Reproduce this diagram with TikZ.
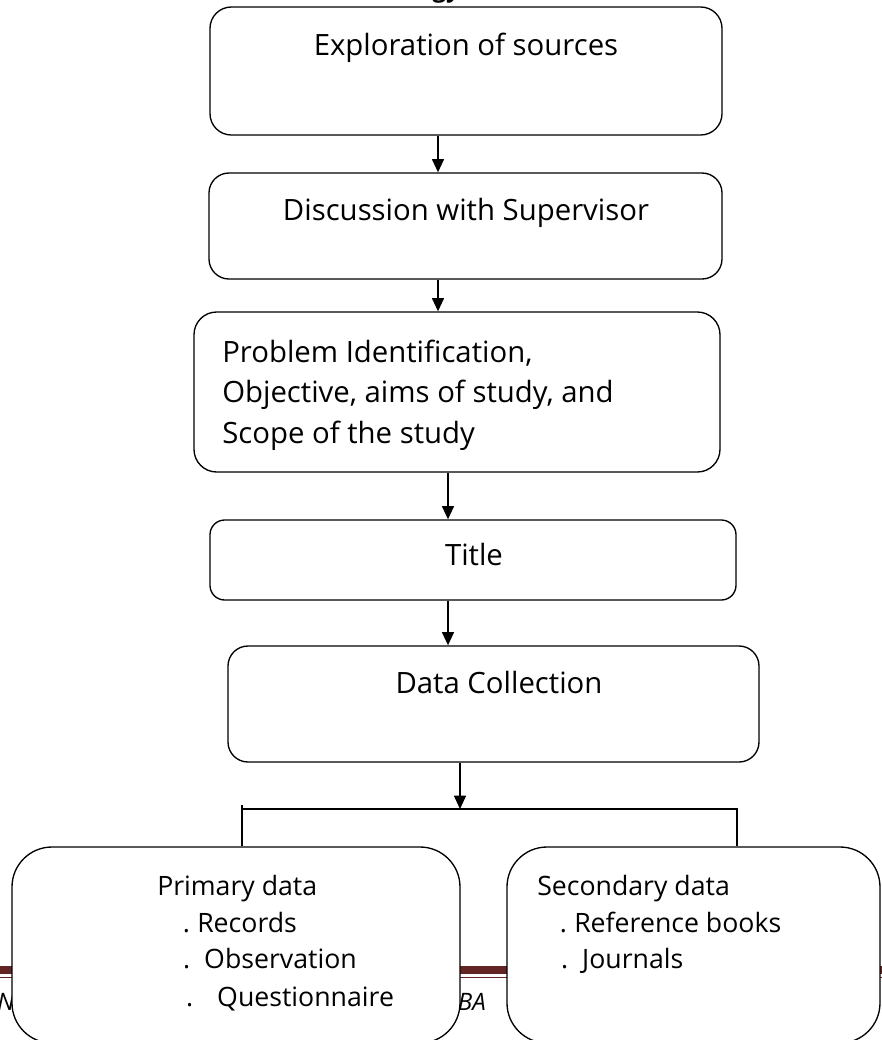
\documentclass[tikz,border=0pt]{standalone}
\usepackage{fontspec}
\setmainfont{Open Sans}
\usetikzlibrary{arrows.meta,fit}
\definecolor{footred}{HTML}{632523}
\begin{document}
\begin{tikzpicture}[x=0.75pt,y=-0.75pt,
  box/.style={draw=black,line width=1pt,fill=white,inner sep=0pt},
  txt/.style={font=\fontsize{22}{26}\selectfont,inner sep=0pt},
  stxt/.style={font=\fontsize{20}{24}\selectfont,inner sep=0pt},
  foot/.style={font=\itshape\fontsize{18}{22}\selectfont,inner sep=0pt},
  arr/.style={line width=1.2pt,-{Triangle[length=10pt,width=9pt]}},
  con/.style={line width=1.2pt}]
\useasboundingbox (0,0) rectangle (882,1040);

% page artefacts behind the chart
\node[font=\bfseries\fontsize{18}{22}\selectfont,inner sep=0pt,anchor=base east] (ttl) at (460,-3) {Methodology};
\fill[footred] (0,966) rectangle (882,974);
\draw[footred,line width=1.2pt] (0,977.5) -- (882,977.5);
\node[foot,anchor=base west] (fl) at (-3,1010) {Na};
\node[foot,anchor=base east] (fr) at (486,1010) {BA};

% boxes
\node[box,rounded corners=16pt,fit={(210,7) (722,135)}] (b1) {};
\node[box,rounded corners=15pt,fit={(209,173) (722,279)}] (b2) {};
\node[box,rounded corners=17pt,fit={(194,312) (720,472)}] (b3) {};
\node[box,rounded corners=11pt,fit={(210,520) (736,600)}] (b4) {};
\node[box,rounded corners=15pt,fit={(228,646) (759,762)}] (b5) {};
\node[box,rounded corners=30pt,fit={(12,847) (460,1043)}] (b6) {};
\node[box,rounded corners=30pt,fit={(507,847) (880,1043)}] (b7) {};

% texts
\node[txt,anchor=base] (t1) at (466,55) {Exploration of sources};
\node[txt,anchor=base] (t2) at (466,220) {Discussion with Supervisor};
\node[txt,anchor=base west] (t3a) at (222,362) {Problem Identification,};
\node[txt,anchor=base west] (t3b) at (222,402) {Objective, aims of study, and};
\node[txt,anchor=base west] (t3c) at (222,443) {Scope of the study};
\node[txt,anchor=base] (t4) at (474,565) {Title};
\node[txt,anchor=base] (t5) at (499,693) {Data Collection};

\node[stxt,anchor=base west] (p0) at (157,895) {Primary data};
\node[stxt,anchor=base west] (p1) at (197,932) {\llap{.\kern5.5pt}Records};
\node[stxt,anchor=base west] (p2) at (204,968) {\llap{.\kern10.5pt}Observation};
\node[stxt,anchor=base west] (p3) at (217,1006) {\llap{.\kern18pt}Questionnaire};

\node[stxt,anchor=base west] (s0) at (537,895) {Secondary data};
\node[stxt,anchor=base west] (s1) at (574,932) {\llap{.\kern5.5pt}Reference books};
\node[stxt,anchor=base west] (s2) at (582,968) {\llap{.\kern10.5pt}Journals};

% connectors
\coordinate (x1) at (438,0);
\coordinate (x3) at (448,0);
\coordinate (j) at (460,809);
\coordinate (jl) at (242,809);
\coordinate (jlt) at (242,805);
\coordinate (jr) at (737,809);

\draw[arr] (x1 |- b1.south) -- (x1 |- b2.north);
\draw[arr] (x1 |- b2.south) -- (x1 |- b3.north);
\draw[arr] (x3 |- b3.south) -- (x3 |- b4.north);
\draw[arr] (x3 |- b4.south) -- (x3 |- b5.north);
\draw[arr] (j |- b5.south) -- (j);
\draw[con] (jlt) -- (jl |- b6.north);
\draw[con] (jl) -- (jr) -- (jr |- b7.north);
\end{tikzpicture}
\end{document}
